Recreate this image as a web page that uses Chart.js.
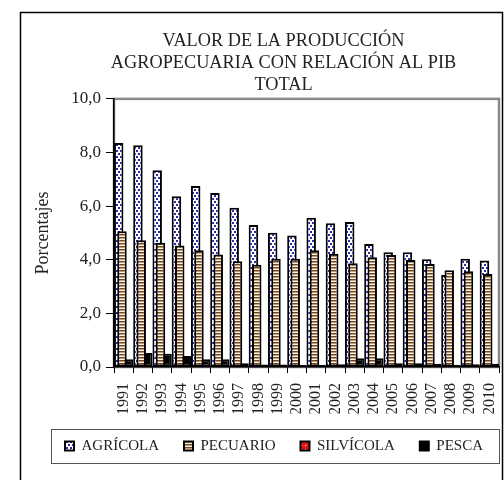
<!DOCTYPE html>
<html><head><meta charset="utf-8">
<script src="https://cdn.jsdelivr.net/npm/chart.js@4.4.1/dist/chart.umd.min.js"></script>
<style>html,body{margin:0;padding:0;background:#fff;}</style>
</head><body>
<canvas id="c" width="504" height="480"></canvas>
<script>
const years = ['1991','1992','1993','1994','1995','1996','1997','1998','1999','2000','2001','2002','2003','2004','2005','2006','2007','2008','2009','2010'];
const agricola = [8.35, 8.27, 7.34, 6.37, 6.75, 6.49, 5.94, 5.30, 5.01, 4.90, 5.57, 5.36, 5.41, 4.59, 4.28, 4.28, 4.02, 3.43, 4.04, 3.97];
const pecuario = [5.06, 4.73, 4.63, 4.53, 4.35, 4.20, 3.94, 3.81, 4.04, 4.04, 4.35, 4.22, 3.87, 4.09, 4.18, 3.99, 3.84, 3.61, 3.57, 3.47];
const silvicola = [0.06, 0.06, 0.05, 0.05, 0.05, 0.05, 0.05, 0.05, 0.05, 0.05, 0.05, 0.05, 0.05, 0.05, 0.05, 0.05, 0.05, 0.05, 0.05, 0.05];
const pesca = [0.29, 0.52, 0.49, 0.41, 0.29, 0.29, 0.14, 0.09, 0.09, 0.07, 0.07, 0.10, 0.33, 0.33, 0.14, 0.14, 0.12, 0.07, 0.10, 0.12];
const seriesNames = ['AGRÍCOLA', 'PECUARIO', 'SILVÍCOLA', 'PESCA'];
const yTickLabels = ['0,0', '2,0', '4,0', '6,0', '8,0', '10,0'];
const titleLines = ['VALOR DE LA PRODUCCIÓN', 'AGROPECUARIA CON RELACIÓN AL PIB', 'TOTAL'];
const yAxisTitle = 'Porcentajes';

const FONT = 'Liberation Serif';
const TXT = '#222';
const canvas = document.getElementById('c');
const ctx = canvas.getContext('2d');

function makePattern(w, h, draw) {
  const t = document.createElement('canvas');
  t.width = w; t.height = h;
  const x = t.getContext('2d');
  draw(x);
  return ctx.createPattern(t, 'repeat');
}
const patAgr = makePattern(4, 6, x => {
  x.fillStyle = '#fff'; x.fillRect(0, 0, 4, 6);
  x.fillStyle = '#2b2bb0'; x.fillRect(0, 0, 2, 2); x.fillRect(2, 3, 2, 2);
});
const patPec = makePattern(4, 3, x => {
  x.fillStyle = '#6e4626'; x.fillRect(0, 0, 4, 1);
  x.fillStyle = '#c39d6c'; x.fillRect(0, 1, 4, 1);
  x.fillStyle = '#fbf6ee'; x.fillRect(0, 2, 4, 1);
});
const patSil = makePattern(4, 4, x => {
  x.fillStyle = '#e01818'; x.fillRect(0, 0, 4, 4);
  x.fillStyle = '#fff'; x.fillRect(1, 1, 1, 1);
});

const barOpts = { borderColor: '#000', borderWidth: 2, borderSkipped: false, categoryPercentage: 0.684, barPercentage: 2.88 };

const tweak = {
  id: 'tweak',
  afterLayout(chart) {
    const t = chart.titleBlock;
    if (t) { t.left += 19; t.right += 19; }
    const l = chart.legend;
    if (l) { l.left += 10; l.right += 30; }
  },
  beforeDraw(chart) {
    const c = chart.ctx, a = chart.chartArea;
    c.save();
    c.strokeStyle = '#000'; c.lineWidth = 1.5;
    c.strokeRect(20.5, 12.5, 482, 480);
    c.strokeStyle = '#8a8a8a'; c.lineWidth = 2.5;
    c.strokeRect(a.left, a.top, a.right - a.left, a.bottom - a.top);
    c.strokeStyle = '#555'; c.lineWidth = 1;
    c.strokeRect(51.5, 429.5, 448, 34);
    c.restore();
  },
  beforeDatasetsDraw(chart) {
    [0, 2, 3, 1].forEach(i => chart.getDatasetMeta(i).controller.draw());
    return false;
  }
};

new Chart(ctx, {
  type: 'bar',
  data: {
    labels: years,
    datasets: [
      Object.assign({ label: seriesNames[0], data: agricola, backgroundColor: patAgr }, barOpts),
      Object.assign({ label: seriesNames[1], data: pecuario, backgroundColor: patPec }, barOpts),
      Object.assign({ label: seriesNames[2], data: silvicola, backgroundColor: patSil }, barOpts),
      Object.assign({ label: seriesNames[3], data: pesca, backgroundColor: '#000' }, barOpts)
    ]
  },
  options: {
    responsive: false,
    animation: false,
    layout: { padding: { left: 30, right: 5, top: 20, bottom: 21.5 } },
    plugins: {
      title: {
        display: true, text: titleLines, color: TXT,
        font: { family: FONT, size: 18.3, weight: 'normal', lineHeight: 1.2 },
        padding: { top: 10, bottom: 3 }
      },
      legend: {
        position: 'bottom', align: 'start', maxHeight: 45,
        labels: { boxWidth: 9, boxHeight: 9, padding: 25, color: TXT, font: { family: FONT, size: 15 } }
      },
      tooltip: { enabled: false }
    },
    scales: {
      x: {
        grid: { display: true, drawOnChartArea: false, drawTicks: true, tickLength: 6, color: '#000', offset: true },
        border: { color: '#000', width: 1.5 },
        ticks: { maxRotation: 90, minRotation: 90, autoSkip: false, padding: 10, color: TXT, font: { family: FONT, size: 16 } },
        afterFit: s => { s.height = 46.5; s.paddingLeft = 0; s.paddingRight = 0; }
      },
      y: {
        min: 0, max: 10,
        grid: { drawOnChartArea: false, drawTicks: true, tickLength: 8, color: '#000' },
        border: { color: '#000', width: 1.5 },
        ticks: { stepSize: 2, padding: 5, color: TXT, font: { family: FONT, size: 17 }, callback: (v, i) => yTickLabels[i] },
        title: { display: true, text: yAxisTitle, color: TXT, font: { family: FONT, size: 18 }, padding: { top: 2, bottom: 0 } },
        afterFit: s => { s.width = 84; }
      }
    }
  },
  plugins: [tweak]
});
</script>
</body></html>
